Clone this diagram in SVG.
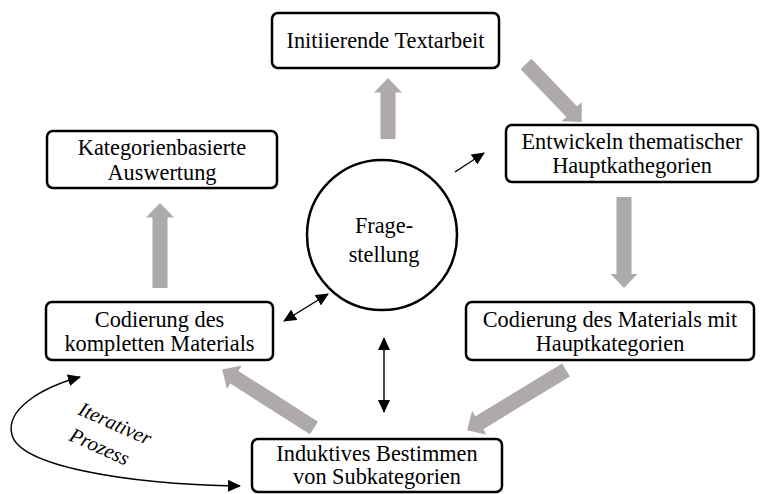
<svg xmlns="http://www.w3.org/2000/svg" width="766" height="494" viewBox="0 0 766 494">
<style>
.box{fill:#fff;stroke:#000;stroke-width:2.5}
.t{font-family:"Liberation Serif","Times New Roman",Times,serif;font-size:22.3px;fill:#000;text-anchor:middle}
.it{font-family:"Liberation Serif","Times New Roman",Times,serif;font-size:20.5px;font-style:italic;fill:#000}
.g{stroke:#aeaaaa;stroke-width:15;fill:none}
.b{stroke:#000;stroke-width:1.4;fill:none}
</style>
<defs>
<marker id="gh" markerUnits="userSpaceOnUse" markerWidth="15" markerHeight="30" refX="0.5" refY="15" orient="auto"><path d="M0,1 L14.5,15 L0,29 z" fill="#aeaaaa"/></marker>
<marker id="bh" markerUnits="userSpaceOnUse" markerWidth="13" markerHeight="12" refX="12" refY="6" orient="auto-start-reverse"><path d="M0,0 L13,6 L0,12 z" fill="#000"/></marker>
</defs>
<g id="connectors">
<line class="g" x1="388" y1="139" x2="388" y2="92" marker-end="url(#gh)"/>
<line class="g" x1="526" y1="64" x2="572" y2="112" marker-end="url(#gh)"/>
<line class="g" x1="624" y1="197" x2="624" y2="274" marker-end="url(#gh)"/>
<line class="g" x1="566" y1="370" x2="479" y2="423" marker-end="url(#gh)"/>
<line class="g" x1="314" y1="428" x2="234" y2="377" marker-end="url(#gh)"/>
<line class="g" x1="160" y1="288" x2="160" y2="217" marker-end="url(#gh)"/>
<line class="b" x1="455" y1="172" x2="484" y2="153" marker-end="url(#bh)"/>
<line class="b" x1="284" y1="321" x2="328" y2="294" marker-start="url(#bh)" marker-end="url(#bh)"/>
<line class="b" x1="384" y1="338" x2="384" y2="412" marker-start="url(#bh)" marker-end="url(#bh)"/>
<path class="b" d="M80,377 C40,388 5,410 12,435 C20,465 120,484 240,486" marker-start="url(#bh)" marker-end="url(#bh)"/>
</g>
<g id="iterativ">
<text class="it" transform="translate(77,414) rotate(24)">Iterativer</text>
<text class="it" transform="translate(68,440) rotate(24)">Prozess</text>
</g>
<g id="fragestellung">
<circle cx="382" cy="235" r="75" fill="#fff" stroke="#000" stroke-width="2.5"/>
<text class="t" x="384" y="233">Frage-</text>
<text class="t" x="384" y="262">stellung</text>
</g>
<g id="initiierende">
<rect class="box" x="272" y="13" width="227" height="55" rx="6"/>
<text class="t" x="385.5" y="48">Initiierende Textarbeit</text>
</g>
<g id="entwickeln">
<rect class="box" x="506" y="125" width="252" height="57" rx="6"/>
<text class="t" x="632" y="149">Entwickeln thematischer</text>
<text class="t" x="632" y="173">Hauptkathegorien</text>
</g>
<g id="codierung-haupt">
<rect class="box" x="466" y="302" width="288" height="58" rx="6"/>
<text class="t" x="610" y="327">Codierung des Materials mit</text>
<text class="t" x="610" y="351">Hauptkategorien</text>
</g>
<g id="induktiv">
<rect class="box" x="252" y="439" width="250" height="53" rx="6"/>
<text class="t" x="377" y="461">Induktives Bestimmen</text>
<text class="t" x="377" y="484">von Subkategorien</text>
</g>
<g id="codierung-komplett">
<rect class="box" x="46" y="302" width="227" height="58" rx="6"/>
<text class="t" x="159.5" y="327">Codierung des</text>
<text class="t" x="159.5" y="351">kompletten Materials</text>
</g>
<g id="kategorienbasiert">
<rect class="box" x="47" y="131" width="230" height="57" rx="6"/>
<text class="t" x="162" y="155">Kategorienbasierte</text>
<text class="t" x="162" y="180">Auswertung</text>
</g>
</svg>
